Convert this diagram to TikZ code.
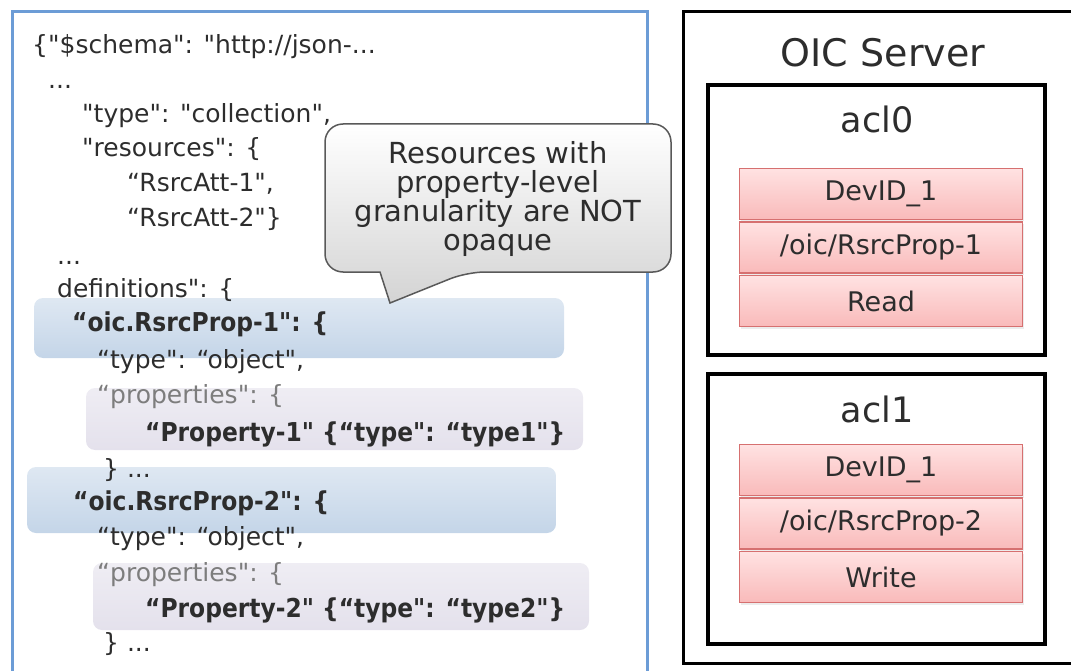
\documentclass[tikz,border=0pt]{standalone}
\usepackage{fontspec}
\setmainfont{DejaVu Sans}[Ligatures=TeXOff]
\newfontfamily\condfont{DejaVu Sans Condensed}[Ligatures=TeXOff]
\usepackage{xcolor}
\usepackage{tikz}
\usetikzlibrary{positioning,shadows}
\definecolor{GrisTexto}{RGB}{45,45,45}
\definecolor{GrisClaro}{RGB}{125,125,125}
\definecolor{AzulMarco}{RGB}{108,156,214}
\definecolor{AzulResalte}{RGB}{196,213,232}
\definecolor{LilaResalte}{RGB}{228,225,236}
\definecolor{RosaArriba}{RGB}{255,226,226}
\definecolor{RosaAbajo}{RGB}{249,186,186}
\definecolor{RojoBorde}{RGB}{214,112,112}
\tikzset{
  jsonline/.style={anchor=base west,inner sep=0pt,text=GrisTexto,
    font=\fontsize{25}{30}\selectfont},
  jsonbold/.style={jsonline,font=\condfont\bfseries\fontsize{26}{30}\selectfont},
  jsongray/.style={jsonline,text=GrisClaro},
  resalteazul/.style={rounded corners=9pt,top color=AzulResalte!55,bottom color=AzulResalte},
  resaltelila/.style={rounded corners=9pt,top color=LilaResalte!60,bottom color=LilaResalte},
  marcoacl/.style={line width=3.5pt,black},
  etiqueta/.style={anchor=base,inner sep=0pt,text=GrisTexto,font=\fontsize{35}{40}\selectfont},
  fila/.style={draw=RojoBorde,line width=1.5pt,top color=RosaArriba,bottom color=RosaAbajo,
    minimum width=283pt,minimum height=51pt,inner sep=0pt,text=GrisTexto,
    font=\fontsize{27}{30}\selectfont,
    drop shadow={opacity=0.15,shadow xshift=1pt,shadow yshift=-2pt}},
  globo/.style={draw=black!65,line width=1.5pt,top color=white,bottom color=black!17},
}

\begin{document}
\begin{tikzpicture}[x=1pt,y=-1pt]
  \useasboundingbox (0,0) rectangle (1071,671);
  \clip (0,0) rectangle (1071,671);

  % Esquema JSON
  \draw[AzulMarco,line width=3pt] (12,12) rectangle (647,700);
  \shade[resalteazul] (34,298) rectangle (564,358);
  \shade[resaltelila] (86,388) rectangle (583,450);
  \shade[resalteazul] (27,467) rectangle (556,533);
  \shade[resaltelila] (93,563) rectangle (589,630);

  \node[jsonline] (l1) at (32,54) {\{"\$schema": "http://json-...};
  \node[jsonline] (l2) at (48,89) {...};
  \node[jsonline] (l3) at (82,123) {"type": "collection",};
  \node[jsonline] (l4) at (82,157) {"resources": \{};
  \node[jsonline] (l5) at (127,192) {“RsrcAtt-1",};
  \node[jsonline] (l6) at (127,227) {“RsrcAtt-2"\}};
  \node[jsonline] (l7) at (57,265) {...};
  \node[jsonline] (l8) at (57,298) {definitions": \{};
  \node[jsonbold] (l9) at (72,331) {“oic.RsrcProp-1": \{};
  \node[jsonline] (l10) at (97,368) {“type": “object",};
  \node[jsongray] (l11) at (97,403) {“properties": \{};
  \node[jsonbold] (l12) at (145,441) {“Property-1" \{“type": “type1"\}};
  \node[jsonline] (l13) at (103,477) {\} ...};
  \node[jsonbold] (l14) at (73,510) {“oic.RsrcProp-2": \{};
  \node[jsonline] (l15) at (97,545) {“type": “object",};
  \node[jsongray] (l16) at (97,581) {“properties": \{};
  \node[jsonbold] (l17) at (145,617) {“Property-2" \{“type": “type2"\}};
  \node[jsonline] (l18) at (103,651) {\} ...};

  % Globo
  \coordinate (g1) at (325,124);
  \coordinate (g2) at (671,272);
  \coordinate (baseA) at (467,272);
  \coordinate (punta) at (390,303);
  \coordinate (baseB) at (380,272);
  \draw[globo] (baseB) [rounded corners=18pt] -- (g1 |- g2) -- (g1) -- (g2 |- g1) -- (g2)
    -- (baseA) [sharp corners] -- (punta) -- cycle;
  \node[align=center,text=GrisTexto,font=\fontsize{29}{29}\selectfont] (nota) at (498,199)
    {Resources with\\property-level\\granularity are NOT\\opaque};

  % Servidor OIC
  \draw[line width=3pt,black] (683,12) rectangle (1090,663);
  \node[text=GrisTexto,font=\fontsize{38}{40}\selectfont] (oic) at (883,53) {OIC Server};

  \draw[marcoacl] (708,85) rectangle (1045,355);
  \node[etiqueta] (acl0) at (877,133) {acl0};
  \node[fila] (r0a) at (881,194) {DevID\_1};
  \node[fila,below=1pt of r0a] (r0b) {/oic/RsrcProp-1};
  \node[fila,below=1pt of r0b] (r0c) {Read};

  \draw[marcoacl] (708,374) rectangle (1045,644);
  \node[etiqueta] (acl1) at (877,422) {acl1};
  \node[fila] (r1a) at (881,470) {DevID\_1};
  \node[fila,below=1pt of r1a] (r1b) {/oic/RsrcProp-2};
  \node[fila,below=1pt of r1b] (r1c) {Write};
\end{tikzpicture}
\end{document}
